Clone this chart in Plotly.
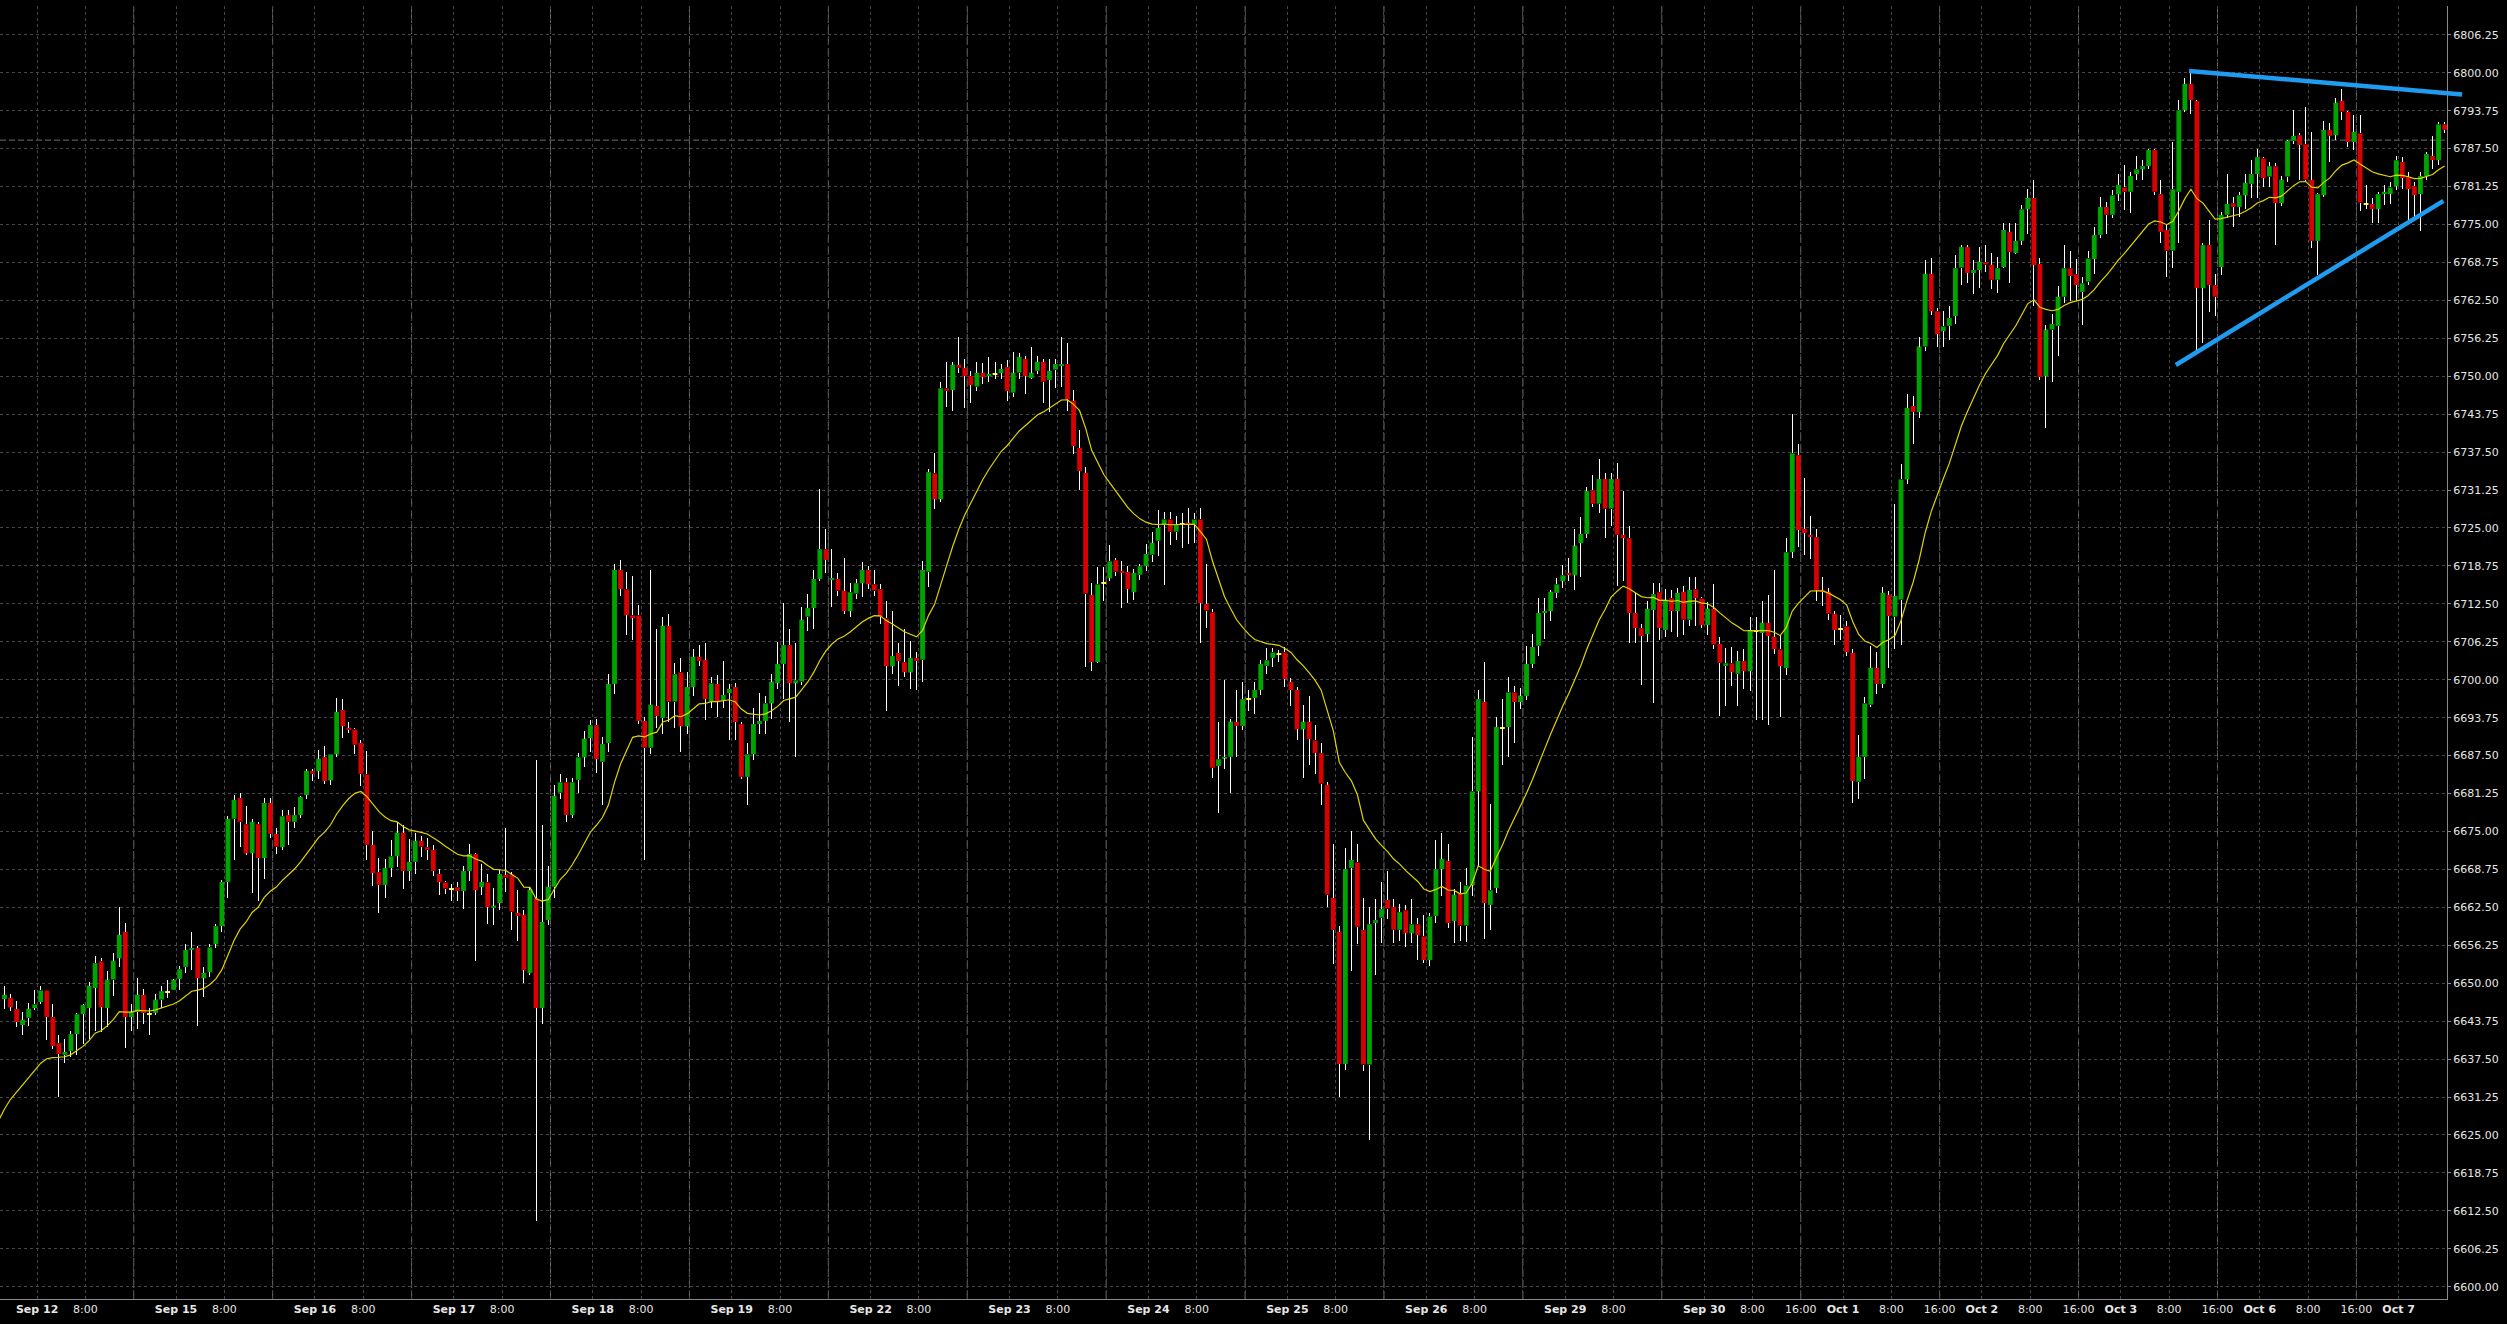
import plotly.graph_objects as go

# ---------------- data (hourly bars) ----------------
opens = [
6647.4, 6647.6, 6645.8, 6643.1, 6644.3, 6645.9, 6646.9, 6648.8, 6644.4, 6640.1,
6638.2, 6638.8, 6641.6, 6644.9, 6645.9, 6649.2, 6653.6, 6645.9, 6650.6, 6654.1,
6658.5, 6644.4, 6645.3, 6648.1, 6644.9, 6645.1, 6647.3, 6648.6, 6648.9, 6650.7,
6652.7, 6655.5, 6655.8, 6650.8, 6651.8, 6656.4, 6659.4, 6666.7, 6677.1, 6680.5,
6676.2, 6671.4, 6676.2, 6670.6, 6679.7, 6674.6, 6672.4, 6677.7, 6676.6, 6677.7,
6681.0, 6685.0, 6684.9, 6687.3, 6683.4, 6687.7, 6695.0, 6692.1, 6691.8, 6689.6,
6684.4, 6672.8, 6668.3, 6666.2, 6669.0, 6670.9, 6674.8, 6668.5, 6670.0, 6673.5,
6672.4, 6672.0, 6668.0, 6666.6, 6665.5, 6665.8, 6665.2, 6668.5, 6671.3, 6665.8,
6666.6, 6662.4, 6663.2, 6667.9, 6667.9, 6661.6, 6661.3, 6651.7, 6664.0, 6645.9,
6660.4, 6665.9, 6681.4, 6683.1, 6677.7, 6683.5, 6687.2, 6690.4, 6692.5, 6686.5,
6689.6, 6699.3, 6718.1, 6714.9, 6710.6, 6710.6, 6693.2, 6688.8, 6695.7, 6693.7,
6708.9, 6696.4, 6701.2, 6692.3, 6698.8, 6703.8, 6703.3, 6696.4, 6699.3, 6696.5,
6697.8, 6698.8, 6692.7, 6684.0, 6687.7, 6692.7, 6693.2, 6696.1, 6699.4, 6702.6,
6705.7, 6699.4, 6699.7, 6710.4, 6711.8, 6716.6, 6721.5, 6716.5, 6716.6, 6714.7,
6711.3, 6714.2, 6715.9, 6718.1, 6715.7, 6714.9, 6710.1, 6702.2, 6704.4, 6702.9,
6701.2, 6703.6, 6703.3, 6717.8, 6734.0, 6729.7, 6748.0, 6747.7, 6751.9, 6751.4,
6750.0, 6748.3, 6750.6, 6750.0, 6750.3, 6750.5, 6751.5, 6747.3, 6750.6, 6752.9,
6749.7, 6750.9, 6752.4, 6749.4, 6751.1, 6751.7, 6752.0, 6746.0, 6738.2, 6734.1,
6714.0, 6702.9, 6716.0, 6716.7, 6719.7, 6717.9, 6717.8, 6714.4, 6717.3, 6718.7,
6720.6, 6722.9, 6725.5, 6726.4, 6724.4, 6725.7, 6725.9, 6725.7, 6726.4, 6712.5,
6711.1, 6685.8, 6687.1, 6687.3, 6693.1, 6692.4, 6696.8, 6697.0, 6698.3, 6702.3,
6703.6, 6704.3, 6704.5, 6699.7, 6698.3, 6691.8, 6693.1, 6690.0, 6687.9, 6682.7,
6664.1, 6658.5, 6636.7, 6669.0, 6669.9, 6658.8, 6636.6, 6659.9, 6660.8, 6663.7,
6662.6, 6658.8, 6662.0, 6658.2, 6659.7, 6657.7, 6653.8, 6661.1, 6668.8, 6670.2,
6660.2, 6664.8, 6659.5, 6666.1, 6681.6, 6696.4, 6662.9, 6665.7, 6692.0, 6692.2,
6697.9, 6696.3, 6697.3, 6702.6, 6705.6, 6711.0, 6711.3, 6714.3, 6716.2, 6717.6,
6717.2, 6722.5, 6724.0, 6731.2, 6729.0, 6733.1, 6728.2, 6733.1, 6723.9, 6723.3,
6711.0, 6708.5, 6707.5, 6711.5, 6714.4, 6708.2, 6713.4, 6711.3, 6714.5, 6709.9,
6714.9, 6713.4, 6709.0, 6711.7, 6705.9, 6702.3, 6702.7, 6701.0, 6703.1, 6701.4,
6708.1, 6707.7, 6709.4, 6707.1, 6705.0, 6701.9, 6721.0, 6737.0, 6724.9, 6723.9,
6723.5, 6714.8, 6714.5, 6710.9, 6708.3, 6708.8, 6704.4, 6683.2, 6687.3, 6695.9,
6702.0, 6699.3, 6714.0, 6710.4, 6713.2, 6733.0, 6745.1, 6744.1, 6754.9, 6766.9,
6760.7, 6757.4, 6758.3, 6759.9, 6767.9, 6771.3, 6767.0, 6767.5, 6768.8, 6768.4,
6765.9, 6768.0, 6773.8, 6770.3, 6772.3, 6777.5, 6779.4, 6768.5, 6750.0, 6757.7,
6758.3, 6763.1, 6767.8, 6766.8, 6763.9, 6765.6, 6769.3, 6773.3, 6777.9, 6776.6,
6780.0, 6781.1, 6780.4, 6783.3, 6784.1, 6784.6, 6787.3, 6780.0, 6774.1, 6770.7,
6780.4, 6793.8, 6798.2, 6795.4, 6764.5, 6771.6, 6765.0, 6768.0, 6776.6, 6778.5,
6777.9, 6779.8, 6781.7, 6783.3, 6785.9, 6782.9, 6784.6, 6778.5, 6782.9, 6788.8,
6789.7, 6788.2, 6782.4, 6772.3, 6779.8, 6790.6, 6789.7, 6795.4, 6793.6, 6788.6,
6790.0, 6778.4, 6778.4, 6777.5, 6780.0, 6780.0, 6781.3, 6785.3, 6782.8, 6781.3,
6780.0, 6783.0, 6786.3, 6785.6, 6791.5]

highs = [
6649.6, 6648.2, 6647.1, 6645.3, 6646.8, 6648.8, 6649.6, 6648.9, 6646.5, 6641.4,
6640.8, 6642.1, 6645.1, 6646.5, 6650.2, 6654.4, 6654.1, 6652.0, 6654.9, 6662.6,
6660.0, 6646.5, 6650.8, 6649.1, 6645.9, 6648.2, 6649.6, 6650.6, 6650.7, 6652.8,
6656.4, 6658.5, 6656.1, 6652.7, 6656.4, 6659.8, 6667.0, 6677.6, 6681.0, 6681.3,
6679.2, 6677.1, 6676.6, 6680.5, 6680.5, 6675.6, 6678.5, 6678.5, 6679.1, 6680.8,
6685.3, 6685.3, 6688.5, 6689.1, 6687.8, 6697.0, 6696.9, 6693.1, 6692.1, 6690.1,
6688.3, 6675.1, 6670.7, 6670.4, 6673.6, 6676.6, 6676.0, 6673.8, 6674.8, 6674.2,
6673.9, 6672.8, 6668.8, 6666.9, 6666.3, 6666.6, 6669.3, 6673.0, 6671.5, 6669.7,
6668.0, 6665.7, 6668.6, 6675.6, 6668.3, 6665.3, 6662.1, 6665.9, 6686.7, 6676.1,
6669.3, 6682.6, 6684.5, 6683.8, 6683.8, 6687.9, 6691.5, 6693.3, 6693.5, 6690.6,
6700.9, 6719.1, 6719.7, 6717.8, 6717.1, 6712.3, 6693.9, 6718.1, 6708.4, 6710.4,
6710.8, 6702.8, 6703.6, 6701.2, 6705.0, 6705.8, 6706.0, 6700.4, 6700.7, 6703.1,
6699.3, 6699.5, 6693.0, 6689.6, 6695.4, 6697.8, 6697.3, 6700.9, 6706.2, 6712.6,
6708.4, 6706.0, 6712.0, 6714.2, 6718.1, 6731.4, 6724.9, 6721.5, 6717.6, 6720.0,
6715.9, 6716.6, 6719.4, 6718.8, 6718.1, 6715.7, 6713.0, 6711.3, 6706.0, 6708.4,
6706.3, 6704.6, 6719.5, 6734.7, 6737.4, 6749.0, 6752.4, 6752.4, 6756.5, 6752.9,
6750.9, 6752.4, 6752.2, 6753.2, 6752.4, 6752.0, 6752.6, 6754.0, 6753.8, 6753.3,
6754.8, 6753.3, 6752.9, 6752.9, 6752.9, 6756.4, 6755.5, 6747.8, 6741.2, 6735.0,
6716.0, 6718.5, 6718.6, 6722.2, 6720.0, 6719.5, 6718.7, 6718.2, 6719.1, 6722.4,
6724.4, 6727.9, 6727.7, 6727.7, 6727.0, 6727.5, 6728.3, 6727.5, 6728.3, 6719.1,
6711.6, 6693.1, 6699.9, 6693.5, 6698.3, 6699.6, 6698.3, 6699.6, 6703.2, 6705.2,
6705.2, 6704.9, 6705.4, 6700.3, 6698.8, 6695.9, 6697.3, 6692.6, 6689.5, 6683.2,
6672.9, 6659.5, 6672.3, 6675.0, 6672.9, 6664.1, 6662.6, 6663.8, 6666.6, 6668.5,
6663.8, 6663.0, 6662.9, 6663.9, 6660.8, 6661.2, 6661.5, 6673.6, 6674.7, 6672.9,
6665.5, 6666.7, 6669.0, 6690.6, 6698.3, 6702.9, 6679.6, 6693.9, 6696.8, 6700.4,
6698.9, 6698.7, 6705.6, 6707.5, 6713.4, 6713.4, 6714.8, 6716.7, 6718.9, 6720.0,
6724.8, 6726.8, 6731.7, 6733.7, 6736.4, 6734.0, 6734.0, 6735.7, 6731.1, 6725.4,
6714.3, 6709.1, 6712.9, 6716.0, 6716.0, 6714.9, 6714.8, 6715.1, 6715.4, 6717.0,
6717.0, 6713.7, 6712.8, 6715.7, 6707.1, 6705.2, 6705.4, 6704.7, 6705.1, 6710.4,
6710.4, 6712.9, 6713.9, 6718.0, 6707.3, 6723.3, 6743.8, 6738.8, 6733.2, 6726.9,
6724.9, 6717.0, 6715.1, 6711.3, 6710.7, 6709.6, 6705.0, 6690.9, 6697.2, 6705.6,
6704.5, 6715.3, 6714.6, 6729.0, 6735.5, 6747.0, 6746.7, 6756.4, 6769.1, 6769.4,
6761.2, 6760.7, 6761.5, 6770.0, 6771.7, 6771.7, 6769.1, 6771.3, 6771.6, 6770.3,
6769.6, 6775.2, 6775.2, 6775.3, 6778.2, 6780.9, 6782.3, 6769.4, 6758.4, 6760.2,
6764.9, 6771.6, 6770.7, 6769.3, 6766.4, 6770.7, 6774.6, 6779.6, 6778.7, 6780.7,
6783.3, 6784.8, 6783.7, 6786.3, 6785.6, 6787.5, 6787.5, 6782.3, 6774.9, 6788.6,
6795.5, 6799.1, 6799.9, 6795.5, 6771.9, 6775.7, 6766.8, 6777.1, 6783.4, 6779.6,
6780.4, 6783.3, 6785.6, 6787.5, 6786.1, 6785.3, 6785.1, 6783.0, 6789.0, 6793.9,
6790.1, 6794.3, 6790.3, 6780.2, 6792.1, 6791.8, 6795.8, 6797.4, 6793.7, 6793.0,
6793.0, 6781.5, 6779.3, 6780.4, 6781.5, 6782.0, 6786.3, 6786.2, 6783.7, 6782.0,
6783.7, 6787.0, 6789.6, 6791.9, 6791.9]

lows = [
6645.7, 6645.5, 6642.8, 6641.5, 6642.9, 6645.6, 6646.6, 6640.7, 6639.1, 6631.2,
6636.9, 6637.8, 6638.1, 6640.0, 6640.8, 6642.2, 6641.9, 6642.8, 6647.9, 6652.7,
6639.4, 6642.2, 6642.4, 6643.2, 6641.4, 6644.7, 6645.9, 6647.6, 6648.8, 6648.8,
6651.6, 6652.1, 6643.0, 6647.7, 6651.0, 6655.8, 6658.4, 6664.0, 6670.3, 6672.5,
6671.1, 6664.9, 6663.5, 6667.2, 6673.9, 6671.3, 6671.9, 6672.8, 6675.6, 6677.2,
6680.4, 6683.3, 6683.6, 6682.8, 6682.7, 6687.3, 6690.4, 6691.3, 6687.7, 6682.5,
6670.3, 6666.0, 6661.5, 6664.0, 6667.5, 6669.2, 6665.6, 6666.9, 6668.0, 6670.8,
6670.3, 6667.7, 6664.5, 6664.7, 6663.6, 6663.5, 6662.2, 6666.9, 6653.6, 6664.5,
6659.8, 6659.6, 6662.1, 6665.0, 6658.7, 6656.9, 6650.0, 6651.4, 6610.9, 6643.2,
6659.6, 6664.0, 6680.4, 6676.5, 6677.2, 6681.4, 6685.7, 6688.1, 6684.6, 6679.4,
6688.1, 6697.6, 6713.8, 6707.3, 6706.5, 6692.7, 6670.3, 6687.7, 6692.0, 6691.1,
6693.0, 6692.0, 6688.1, 6691.1, 6697.3, 6702.3, 6693.3, 6695.4, 6693.9, 6695.4,
6690.1, 6690.1, 6683.6, 6679.4, 6686.7, 6691.1, 6691.1, 6693.5, 6698.5, 6696.8,
6693.0, 6687.2, 6699.2, 6708.1, 6708.4, 6716.2, 6717.6, 6712.0, 6713.8, 6710.8,
6710.4, 6713.3, 6713.6, 6714.9, 6713.8, 6709.1, 6694.9, 6701.0, 6699.0, 6700.4,
6698.5, 6698.3, 6699.7, 6715.2, 6728.2, 6729.2, 6744.9, 6744.2, 6750.5, 6744.7,
6745.6, 6747.6, 6748.7, 6749.0, 6749.5, 6749.6, 6746.0, 6746.5, 6749.5, 6747.1,
6749.5, 6750.4, 6745.6, 6744.1, 6748.0, 6748.2, 6744.2, 6737.2, 6731.2, 6702.1,
6701.4, 6702.8, 6712.9, 6716.2, 6717.1, 6711.8, 6712.7, 6713.2, 6716.4, 6717.9,
6719.4, 6720.4, 6715.6, 6722.2, 6723.1, 6721.7, 6722.4, 6722.6, 6706.0, 6708.5,
6683.8, 6678.0, 6685.3, 6681.4, 6687.3, 6691.7, 6694.8, 6694.4, 6697.5, 6701.0,
6702.1, 6703.0, 6698.8, 6695.7, 6690.0, 6683.8, 6686.0, 6684.4, 6679.4, 6662.6,
6653.2, 6631.3, 6635.7, 6652.0, 6656.4, 6635.5, 6624.2, 6651.4, 6656.7, 6660.6,
6656.7, 6656.9, 6656.0, 6656.7, 6653.8, 6653.3, 6652.8, 6660.0, 6664.4, 6659.1,
6656.7, 6657.0, 6656.8, 6664.4, 6669.2, 6657.3, 6658.8, 6664.8, 6686.0, 6687.3,
6689.5, 6695.2, 6696.6, 6702.0, 6703.9, 6706.7, 6709.6, 6713.4, 6715.1, 6716.2,
6714.8, 6716.9, 6723.3, 6728.4, 6727.5, 6723.3, 6725.4, 6715.5, 6716.2, 6706.1,
6706.1, 6699.1, 6706.2, 6696.1, 6706.6, 6707.1, 6707.8, 6707.1, 6707.3, 6708.8,
6708.8, 6708.6, 6707.3, 6705.0, 6694.1, 6695.7, 6698.9, 6695.7, 6698.5, 6698.1,
6693.3, 6693.4, 6692.6, 6704.2, 6693.9, 6700.8, 6720.1, 6721.8, 6720.6, 6719.9,
6713.0, 6712.2, 6709.9, 6705.8, 6706.6, 6703.9, 6679.7, 6680.4, 6683.7, 6695.5,
6697.6, 6698.7, 6702.0, 6705.0, 6705.8, 6732.3, 6738.9, 6743.1, 6754.2, 6760.1,
6754.9, 6754.9, 6755.9, 6758.6, 6765.0, 6765.3, 6763.5, 6764.5, 6767.2, 6764.3,
6763.7, 6767.8, 6765.4, 6770.1, 6771.6, 6773.5, 6761.5, 6749.4, 6741.4, 6749.1,
6753.3, 6762.0, 6762.4, 6762.4, 6758.4, 6765.0, 6766.8, 6772.7, 6773.4, 6776.0,
6778.9, 6777.4, 6776.9, 6782.4, 6782.4, 6784.2, 6779.8, 6772.0, 6766.3, 6767.9,
6772.0, 6793.5, 6793.2, 6754.3, 6755.4, 6760.6, 6759.9, 6766.7, 6776.0, 6774.6,
6776.2, 6777.5, 6779.3, 6779.3, 6781.2, 6781.2, 6771.6, 6778.0, 6782.0, 6788.2,
6782.3, 6782.2, 6771.1, 6766.7, 6779.6, 6785.3, 6789.0, 6792.2, 6787.8, 6787.3,
6777.3, 6777.5, 6775.2, 6775.2, 6778.2, 6778.4, 6780.7, 6780.9, 6775.7, 6775.6,
6774.0, 6782.4, 6784.2, 6784.8, 6790.0]

closes = [
6648.1, 6646.0, 6643.6, 6644.0, 6645.8, 6646.5, 6648.8, 6644.4, 6639.6, 6638.3,
6638.7, 6641.6, 6644.9, 6646.4, 6649.6, 6653.3, 6646.0, 6650.6, 6653.7, 6658.0,
6644.4, 6645.3, 6648.1, 6645.1, 6644.9, 6647.3, 6648.7, 6648.6, 6650.6, 6652.3,
6655.5, 6655.8, 6650.8, 6651.7, 6655.9, 6659.4, 6666.7, 6677.1, 6680.2, 6676.6,
6671.4, 6676.6, 6670.6, 6679.7, 6674.6, 6672.5, 6677.5, 6676.6, 6677.7, 6680.7,
6685.0, 6684.5, 6687.0, 6683.3, 6687.7, 6694.7, 6692.3, 6691.7, 6689.3, 6684.5,
6672.8, 6668.1, 6666.2, 6669.0, 6670.9, 6674.8, 6668.5, 6670.0, 6673.5, 6672.5,
6672.0, 6668.5, 6666.6, 6665.6, 6665.5, 6665.2, 6668.5, 6671.3, 6665.3, 6666.7,
6662.5, 6662.8, 6668.0, 6667.4, 6661.8, 6661.1, 6652.1, 6665.4, 6645.9, 6660.1,
6665.9, 6680.9, 6683.1, 6677.7, 6683.1, 6687.2, 6690.3, 6692.5, 6686.9, 6689.4,
6699.3, 6718.1, 6714.9, 6710.6, 6710.1, 6693.2, 6688.8, 6695.9, 6694.0, 6708.9,
6696.4, 6700.9, 6692.3, 6698.8, 6703.8, 6703.1, 6696.8, 6699.4, 6696.4, 6697.5,
6698.5, 6693.0, 6684.0, 6687.7, 6692.7, 6693.2, 6696.1, 6699.7, 6702.6, 6705.7,
6699.4, 6699.9, 6709.9, 6711.8, 6716.6, 6721.5, 6719.7, 6716.7, 6714.7, 6711.3,
6714.4, 6715.9, 6718.1, 6715.7, 6714.7, 6710.4, 6702.2, 6703.9, 6703.1, 6701.2,
6703.6, 6703.1, 6718.1, 6734.2, 6729.7, 6748.0, 6747.6, 6751.9, 6751.4, 6750.0,
6748.5, 6750.6, 6749.8, 6750.4, 6750.3, 6751.2, 6747.6, 6750.6, 6753.2, 6750.0,
6750.6, 6752.4, 6749.1, 6750.9, 6752.0, 6752.0, 6746.2, 6738.5, 6734.4, 6714.2,
6702.9, 6715.7, 6716.0, 6719.5, 6717.8, 6717.6, 6714.9, 6717.6, 6718.7, 6720.7,
6722.6, 6725.0, 6726.4, 6724.4, 6725.5, 6725.7, 6725.6, 6726.4, 6712.6, 6711.4,
6685.5, 6686.9, 6687.3, 6693.1, 6692.4, 6696.8, 6696.8, 6698.3, 6702.6, 6703.2,
6704.5, 6704.3, 6700.1, 6698.3, 6691.8, 6693.1, 6690.2, 6687.9, 6682.9, 6664.6,
6658.8, 6636.7, 6668.8, 6670.3, 6659.3, 6636.6, 6659.7, 6660.4, 6662.2, 6662.3,
6658.8, 6661.7, 6658.2, 6659.7, 6657.9, 6653.8, 6661.0, 6668.8, 6670.5, 6659.9,
6664.6, 6659.5, 6666.1, 6681.6, 6696.8, 6663.2, 6665.3, 6692.2, 6692.0, 6697.9,
6696.3, 6697.4, 6702.6, 6705.4, 6711.0, 6711.3, 6714.5, 6715.7, 6717.2, 6717.2,
6722.1, 6724.0, 6731.1, 6729.0, 6733.1, 6728.2, 6733.1, 6723.9, 6723.3, 6711.0,
6708.5, 6707.2, 6711.7, 6714.1, 6708.5, 6713.2, 6711.3, 6714.3, 6709.9, 6714.8,
6713.4, 6709.0, 6711.7, 6705.8, 6702.8, 6702.7, 6701.2, 6703.1, 6701.4, 6708.2,
6708.1, 6709.4, 6707.2, 6705.0, 6702.2, 6721.0, 6737.3, 6724.6, 6724.1, 6723.5,
6714.8, 6714.5, 6710.9, 6708.2, 6708.3, 6704.5, 6683.3, 6687.3, 6696.1, 6702.0,
6699.3, 6714.3, 6710.5, 6713.8, 6733.0, 6744.8, 6744.1, 6754.9, 6766.9, 6760.7,
6756.9, 6758.2, 6759.6, 6767.8, 6771.3, 6767.0, 6767.5, 6768.9, 6768.4, 6765.9,
6767.8, 6774.1, 6770.5, 6772.3, 6777.5, 6779.4, 6768.3, 6749.9, 6757.7, 6758.6,
6763.1, 6767.8, 6766.5, 6765.0, 6765.3, 6769.4, 6773.3, 6777.9, 6776.6, 6779.8,
6781.5, 6780.4, 6783.0, 6784.1, 6784.6, 6787.3, 6780.4, 6773.8, 6770.7, 6780.8,
6793.8, 6798.2, 6795.5, 6764.5, 6771.6, 6765.0, 6763.1, 6776.6, 6778.4, 6777.9,
6779.8, 6781.9, 6783.3, 6786.1, 6782.6, 6784.6, 6778.5, 6782.4, 6788.8, 6789.6,
6788.1, 6782.4, 6772.3, 6780.0, 6790.6, 6789.6, 6795.1, 6793.6, 6788.6, 6790.3,
6778.6, 6778.4, 6777.5, 6780.0, 6780.4, 6781.1, 6785.6, 6782.6, 6780.8, 6779.8,
6783.0, 6786.6, 6785.6, 6791.5, 6790.6]

day_names = ["Sep 12", "Sep 15", "Sep 16", "Sep 17", "Sep 18", "Sep 19", "Sep 22",
             "Sep 23", "Sep 24", "Sep 25", "Sep 26", "Sep 29", "Sep 30", "Oct 1",
             "Oct 2", "Oct 3", "Oct 6", "Oct 7"]
first_day_bar = 6          # bar index of "Sep 12 0:00"
bars_per_day = 23
hour_marks = [8, 16]       # intraday labels
first_day_with_16 = 12     # "16:00" labels shown from Sep 30 on

price_ticks = [6600.00, 6606.25, 6612.50, 6618.75, 6625.00, 6631.25, 6637.50, 6643.75,
               6650.00, 6656.25, 6662.50, 6668.75, 6675.00, 6681.25, 6687.50, 6693.75,
               6700.00, 6706.25, 6712.50, 6718.75, 6725.00, 6731.25, 6737.50, 6743.75,
               6750.00, 6756.25, 6762.50, 6768.75, 6775.00, 6781.25, 6787.50, 6793.75,
               6800.00, 6806.25]

ma_period = 20             # exponential moving average period
ma_seed = 6627.3           # MA value just left of the first bar

price_line = 6788.9
trend_upper_bar = [361.7, 406.9]
trend_upper_price = [6800.3, 6796.4]
trend_lower_bar = [359.5, 403.8]
trend_lower_price = [6751.85, 6778.9]

# ---------------- styling ----------------
BG = "#000000"
GRID = "#464646"
AXIS = "#8a8a8a"
TXT = "#e6e6e6"
UP = "#00a400"
DOWN = "#d80000"
DOJI = "#ffff00"
WICK = "#ffffff"
MA_COL = "#e0d400"
TREND = "#1f9bef"
XR = [-0.745, 404.4]
YR = [6597.97, 6811.0]

n = len(closes)
idx = list(range(n))

# wicks (upper and lower part separately so they never cross the body)
wx, wy = [], []
for i in idx:
    top = max(opens[i], closes[i])
    bot = min(opens[i], closes[i])
    wx += [i, i, None, i, i, None]
    wy += [highs[i], top, None, bot, lows[i], None]

# bodies
min_h = 0.17
bases, heights, colors = [], [], []
for i in idx:
    o, c = opens[i], closes[i]
    if c > o:
        col = UP
    elif c < o:
        col = DOWN
    else:
        col = DOJI
    h = abs(c - o)
    if h < min_h:
        bases.append(min(o, c) - (min_h - h) / 2)
        heights.append(min_h)
    else:
        bases.append(min(o, c))
        heights.append(h)
    colors.append(col)

# exponential moving average of the closes
alpha = 2.0 / (ma_period + 1)
ma_x, ma_y = [-1], [ma_seed]
m = ma_seed
for i in idx:
    m = m + alpha * (closes[i] - m)
    ma_x.append(i)
    ma_y.append(m)

fig = go.Figure()
fig.add_trace(go.Bar(x=idx, y=heights, base=bases, width=0.8,
                     marker=dict(color=colors, line=dict(width=0)),
                     hoverinfo="skip", showlegend=False))
fig.add_trace(go.Scatter(x=wx, y=wy, mode="lines", name="wicks",
                         line=dict(color=WICK, width=1),
                         hoverinfo="skip", showlegend=False))
fig.add_trace(go.Scatter(x=ma_x, y=ma_y, mode="lines",
                         line=dict(color=MA_COL, width=1.2),
                         hoverinfo="skip", showlegend=False))

# x ticks
tickvals, ticktext, sixteen = [], [], []
for d, name in enumerate(day_names):
    start = first_day_bar + bars_per_day * d - 0.6
    tickvals.append(start)
    ticktext.append("<b>" + name + "</b>")
    for hm in hour_marks:
        pos = start + hm
        if pos > XR[1] - 0.5:
            continue
        tickvals.append(pos)
        if hm == 16:
            sixteen.append(pos)
            ticktext.append("16:00" if d >= first_day_with_16 else "")
        else:
            ticktext.append("%d:00" % hm)

shapes = []
for pos in sixteen:
    shapes.append(dict(type="line", xref="x", yref="paper", x0=pos, x1=pos, y0=0, y1=1,
                       line=dict(color="#6a6a6a", width=1, dash="8px,3px"), layer="below"))
shapes.append(dict(type="line", xref="paper", yref="y", x0=0, x1=1,
                   y0=price_line, y1=price_line,
                   line=dict(color="#6e6e6e", width=1, dash="6px,3px"), layer="below"))


def px(v):
    return (v - XR[0]) / (XR[1] - XR[0])


def py(v):
    return (v - YR[0]) / (YR[1] - YR[0])


for bx, by in ((trend_upper_bar, trend_upper_price), (trend_lower_bar, trend_lower_price)):
    shapes.append(dict(type="line", xref="paper", yref="paper",
                       x0=px(bx[0]), y0=py(by[0]), x1=px(bx[1]), y1=py(by[1]),
                       line=dict(color=TREND, width=4.5), layer="above"))

fig.update_layout(
    width=2507, height=1324,
    margin=dict(l=0, r=60, t=6, b=25, pad=0),
    paper_bgcolor=BG, plot_bgcolor=BG,
    font=dict(family="DejaVu Sans", size=11, color=TXT),
    showlegend=False, hovermode=False,
    barmode="overlay",
    shapes=shapes,
    xaxis=dict(range=XR, tickmode="array", tickvals=tickvals, ticktext=ticktext,
               showgrid=True, gridcolor=GRID, griddash="3px,3px", gridwidth=1,
               zeroline=False, showline=True, linecolor=AXIS, linewidth=1,
               ticks="", tickfont=dict(family="DejaVu Sans", size=11, color=TXT),
               fixedrange=True),
    yaxis=dict(range=YR, side="right", tickmode="array", tickvals=price_ticks,
               ticktext=["%.2f" % v for v in price_ticks],
               showgrid=True, gridcolor=GRID, griddash="3px,3px", gridwidth=1,
               zeroline=False, showline=True, mirror=True, linecolor=AXIS, linewidth=1,
               ticks="outside", ticklen=3, tickcolor=AXIS,
               tickfont=dict(family="DejaVu Sans", size=11, color=TXT),
               fixedrange=True),
)

post = (
    "document.body.style.margin='0';document.body.style.overflow='hidden';"
    "var st=document.createElement('style');"
    "st.textContent='.scatterlayer .trace:first-child path.js-line{shape-rendering:crispEdges !important;}';"
    "document.head.appendChild(st);"
)
fig.write_html("out.html", config={"displayModeBar": False}, post_script=post)
